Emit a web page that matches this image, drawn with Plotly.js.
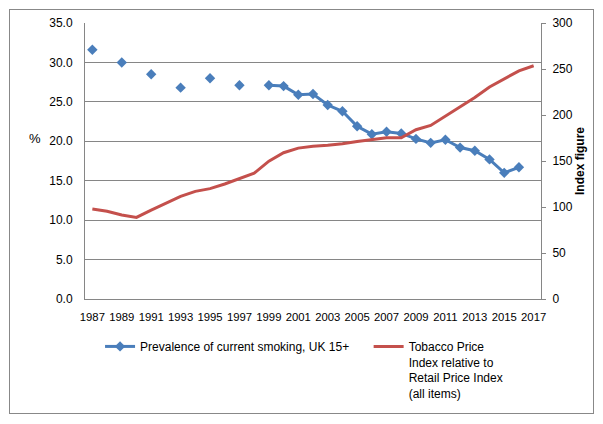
<!DOCTYPE html>
<html>
<head>
<meta charset="utf-8">
<script src="https://cdn.plot.ly/plotly-3.0.1.min.js"></script>
<style>
html,body{margin:0;padding:0;background:#fff;}
#frame{position:absolute;left:9px;top:9px;width:583px;height:403px;border:1px solid #888;}
#chart{position:absolute;left:0;top:0;width:603px;height:424px;}
</style>
</head>
<body>
<div id="frame"></div>
<div id="chart"></div>
<script>
const years = ["1987","1988","1989","1990","1991","1992","1993","1994","1995","1996","1997","1998","1999","2000","2001","2002","2003","2004","2005","2006","2007","2008","2009","2010","2011","2012","2013","2014","2015","2016","2017"];
const tickYears = ["1987","1989","1991","1993","1995","1997","1999","2001","2003","2005","2007","2009","2011","2013","2015","2017"];
const smoking = [31.6,null,30.0,null,28.5,null,26.8,null,28.0,null,27.1,null,27.1,27.0,25.9,26.0,24.6,23.8,21.9,20.9,21.2,21.0,20.3,19.8,20.2,19.2,18.8,17.7,16.0,16.7,null];
const priceIndex = [97.8,95.3,91.3,88.7,96.7,104,111.6,117,120,125,131,136.7,149.8,159,164,166,167,168.7,171.3,173.5,175.3,175.3,184,188.7,198.9,209.5,219,230.5,239.6,248,253.5];
const smokingName = "Prevalence of current smoking, UK 15+";
const priceName = "Tobacco Price<br>Index relative to<br>Retail Price Index<br>(all items)";

const FONT = "Liberation Sans, Arial, sans-serif";
const GRID = "#868686";

const data = [
  {x: years, y: smoking, name: smokingName, type: "scatter", mode: "lines+markers",
   line: {color: "#4A7EBB", width: 3}, marker: {symbol: "diamond", size: 8, color: "#4A7EBB"},
   connectgaps: false, yaxis: "y", legend: "legend"},
  {x: years, y: priceIndex, name: priceName, type: "scatter", mode: "lines",
   line: {color: "#C4504C", width: 3}, yaxis: "y2", legend: "legend2"}
];

const legendBase = {orientation: "v", xanchor: "left", y: -0.12, yanchor: "top", valign: "top",
  font: {size: 12}, bgcolor: "rgba(0,0,0,0)", borderwidth: 0};

const layout = {
  width: 603, height: 424,
  margin: {l: 85, r: 62, t: 23, b: 125},
  paper_bgcolor: "rgba(0,0,0,0)", plot_bgcolor: "#fff",
  font: {family: FONT, color: "#000", size: 12},
  showlegend: true,
  xaxis: {type: "category", range: [-0.5, 30.5], tickmode: "array", tickvals: tickYears, ticktext: tickYears,
    showgrid: false, showline: true, linecolor: GRID, linewidth: 1, zeroline: false,
    ticks: "outside", ticklen: 7, tickcolor: "rgba(0,0,0,0)", tickfont: {size: 11.3}, fixedrange: true},
  yaxis: {range: [0, 35], dtick: 5, tickformat: ".1f", showgrid: true, gridcolor: GRID, gridwidth: 1,
    showline: true, linecolor: GRID, zeroline: false, ticks: "outside", ticklen: 9, tickcolor: "rgba(0,0,0,0)",
    tickfont: {size: 12}},
  yaxis2: {overlaying: "y", side: "right", range: [0, 300], dtick: 50, showgrid: false, zeroline: false,
    showline: true, linecolor: GRID, ticks: "outside", ticklen: 4, tickcolor: GRID, tickfont: {size: 12},
    ticklabelstandoff: 4,
    title: {text: "<b>Index figure</b>", font: {size: 12}, standoff: 2}},
  legend: Object.assign({}, legendBase, {x: 0.033}),
  legend2: Object.assign({}, legendBase, {x: 0.622}),
  annotations: [
    {text: "%", xref: "paper", yref: "paper", x: -0.11, y: 0.583, xanchor: "center", yanchor: "middle",
     showarrow: false, font: {size: 13}}
  ]
};

Plotly.newPlot("chart", data, layout, {displayModeBar: false, staticPlot: true});
</script>
</body>
</html>
